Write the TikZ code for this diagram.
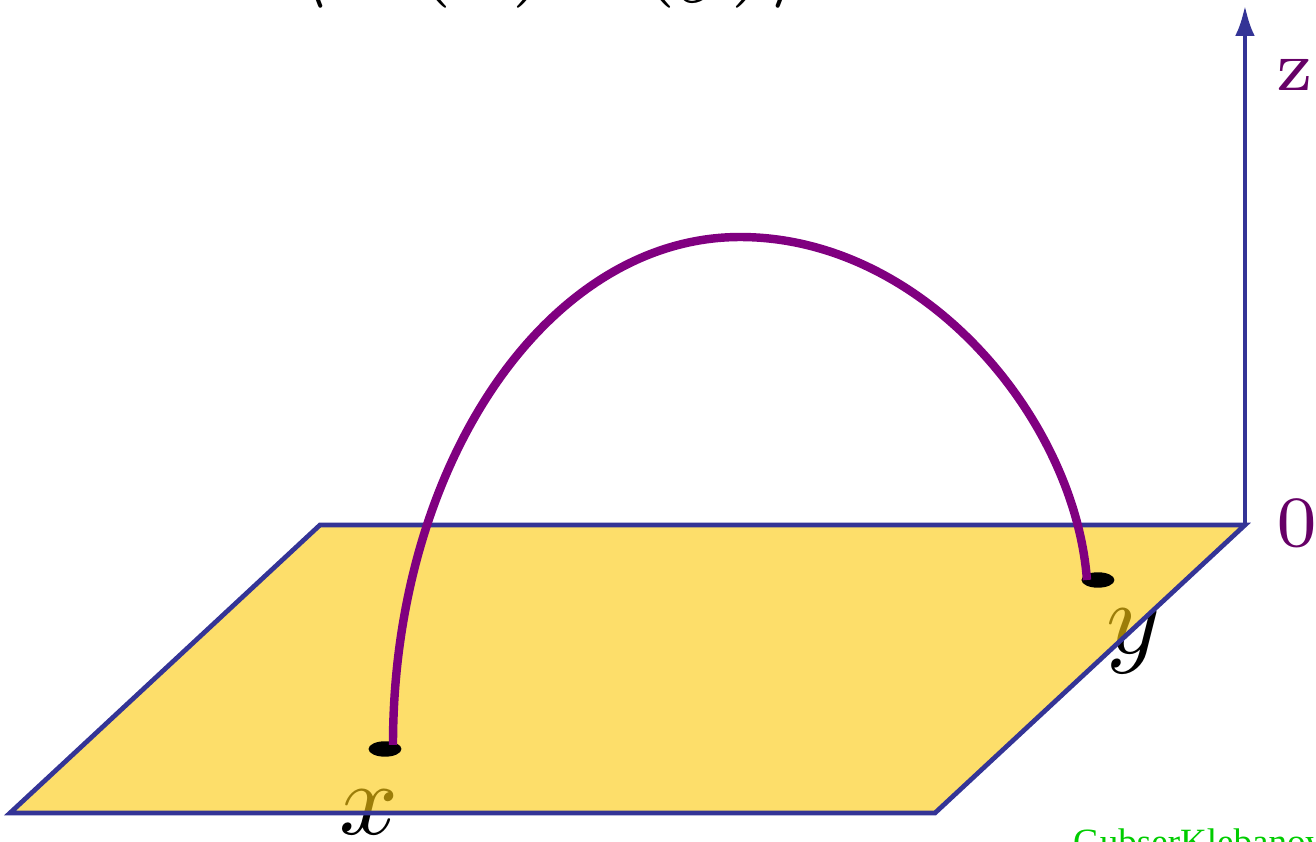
\RequirePackage{fix-cm}
\documentclass[tikz,border=0pt]{standalone}
\usepackage{fontspec}
\newfontfamily\tms{Liberation Serif}
\usetikzlibrary{arrows.meta,shapes.geometric}
\definecolor{planeblue}{RGB}{52,52,150}
\definecolor{planefill}{RGB}{252,202,15}
\definecolor{curvepurple}{RGB}{128,0,128}
\definecolor{labelpurple}{RGB}{102,0,102}
\definecolor{gkpgreen}{RGB}{0,204,0}
\tikzset{
  plane/.style={draw=planeblue, line width=0.46pt, fill=planefill, fill opacity=0.62, line join=miter},
  axisline/.style={draw=planeblue, line width=0.46pt, -{Latex[length=3pt,width=1.9pt]}},
  geod/.style={draw=curvepurple, line width=0.82pt},
  dot/.style={ellipse, fill=black, inner sep=0pt, minimum width=3.2pt, minimum height=1.5pt},
  ptlabel/.style={anchor=base, inner sep=0pt},
  axlabel/.style={anchor=base, inner sep=0pt, text=labelpurple, font=\fontsize{7}{8}\selectfont},
}
\begin{document}
\begin{tikzpicture}[x=0.0971pt,y=-0.0971pt]
\useasboundingbox (0,0) rectangle (1316,842);
% title (cropped at the top)
\node[anchor=base west, inner sep=0pt] (title) at (286,-18) {$\langle\mathcal{O}(x)\mathcal{O}(y)\rangle$};
% point labels (drawn under the translucent plane)
\node[ptlabel] (xlab) at (369,835) {$x$};
\node[ptlabel] (ylab) at (1134,654) {$y$};
% plane
\coordinate (p1) at (10,813);
\coordinate (p2) at (935,813);
\coordinate (p3) at (1245,525);
\coordinate (p4) at (320,525);
\path[plane] (p1) -- (p2) -- (p3) -- (p4) -- cycle;
% z axis
\coordinate (ztip) at (1245,5);
\draw[axisline] (p3) -- (ztip);
\node[axlabel] (zlab) at (1295,90) {z};
\node[axlabel] (olab) at (1297,547) {0};
% points
\node[dot] (xd) at (385,749) {};
\node[dot] (yd) at (1098,580) {};
% geodesic
\coordinate (xend) at (393,745);
\coordinate (apex) at (740,237);
\coordinate (yend) at (1087,580);
\draw[geod] (xend) .. controls (393,464) and (548,237) .. (apex)
  .. controls (925,237) and (1075,420) .. (yend);
% credit (cropped at the bottom)
\node[anchor=base west, inner sep=0pt, text=gkpgreen, font=\tms\fontsize{3.6}{4}\selectfont] (gkp) at (1071,855) {GubserKlebanovPolyakov};
\end{tikzpicture}
\end{document}
